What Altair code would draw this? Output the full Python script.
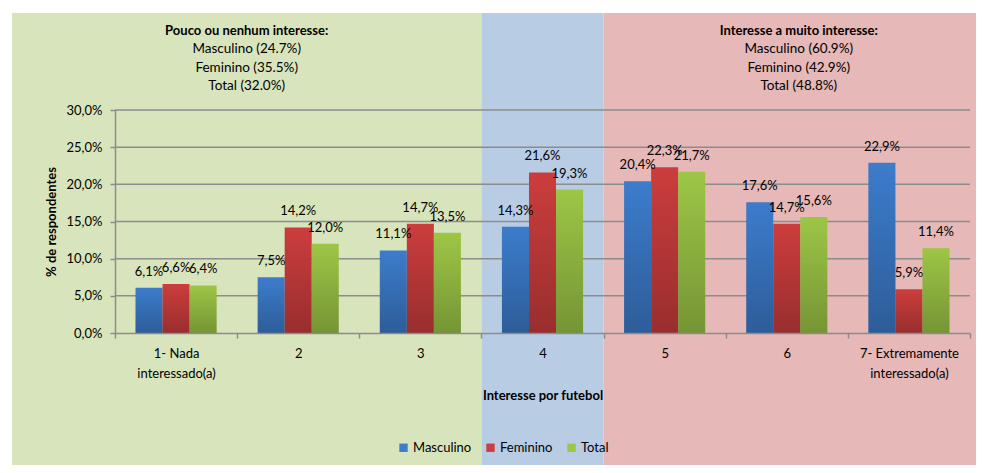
import altair as alt
import pandas as pd

# ---------------- data ----------------
categories = ["1- Nada\ninteressado(a)", "2", "3", "4", "5", "6",
              "7- Extremamente\ninteressado(a)"]
series = ["Masculino", "Feminino", "Total"]
masculino = [6.1, 7.5, 11.1, 14.3, 20.4, 17.6, 22.9]
feminino = [6.6, 14.2, 14.7, 21.6, 22.3, 14.7, 5.9]
total = [6.4, 12.0, 13.5, 19.3, 21.7, 15.6, 11.4]
y_ticks = [0, 5, 10, 15, 20, 25, 30]

left_title = "Pouco ou nenhum interesse:"
left_lines = ["Masculino (24.7%)", "Feminino (35.5%)", "Total (32.0%)"]
right_title = "Interesse a muito interesse:"
right_lines = ["Masculino (60.9%)", "Feminino (42.9%)", "Total (48.8%)"]

# ---------------- styling ----------------
colors = ["#3c7ccc", "#cc3d3d", "#9dc646"]
region_colors = ["#d8e4bc", "#b8cce4", "#e6b8b7"]
FONT = "Lato"
W, H = 855, 223
PAD = {"left": 107, "top": 102, "right": 6, "bottom": 132}

rows = []
for s, vals in zip(series, [masculino, feminino, total]):
    for c, v in zip(categories, vals):
        rows.append({"cat": c, "series": s, "value": v})
df = pd.DataFrame(rows)

one = alt.Data(values=[{}])

# background regions (decoration, aligned with category bands)
b1, b2 = W * 3 / 7, W * 4 / 7
top_px, bot_px = -PAD["top"] + 5, H + PAD["bottom"]
bounds = [(-PAD["left"] + 4, b1), (b1, b2), (b2, W + PAD["right"])]
bg_layers = [
    alt.Chart(one).mark_rect(color=col).encode(
        x=alt.value(x0), x2=alt.value(x1), y=alt.value(top_px), y2=alt.value(bot_px)
    )
    for (x0, x1), col in zip(bounds, region_colors)
]

y_axis = alt.Axis(
    title="% de respondentes", values=y_ticks, grid=False,
    labelExpr="replace(format(datum.value, '.1f'), '.', ',') + '%'",
    tickSize=5, labelPadding=8, titlePadding=8, labelFontSize=13,
    titleFontSize=13, titleFontWeight="bold",
    domainColor="#8c8c8c", tickColor="#8c8c8c", domainWidth=1.5, tickWidth=1.5,
    labelColor="#000", titleColor="#000", zindex=1,
)
y_scale = alt.Scale(domain=[0, 30])

grid = alt.Chart(pd.DataFrame({"value": y_ticks[1:]})).mark_rule(
    color="#8c8c8c", strokeWidth=1.5
).encode(y=alt.Y("value:Q", scale=y_scale, axis=y_axis))

x_enc = alt.X(
    "cat:N", sort=categories,
    scale=alt.Scale(paddingInner=0, paddingOuter=0),
    axis=alt.Axis(
        title="Interesse por futebol", labelAngle=0,
        labelExpr="split(datum.label, '\\n')",
        tickBand="extent", tickSize=5, labelPadding=9, labelLineHeight=20,
        titlePadding=9, labelFontSize=13, titleFontSize=13, titleFontWeight="bold",
        domainColor="#8c8c8c", tickColor="#8c8c8c", domainWidth=1.5, tickWidth=1.5,
        labelColor="#000", titleColor="#000", zindex=1, grid=False,
    ),
)
xo_enc = alt.XOffset("series:N", sort=series,
                     scale=alt.Scale(paddingInner=0, paddingOuter=0.759))
y_enc = alt.Y("value:Q", scale=y_scale, axis=y_axis)

bars = alt.Chart(df).mark_bar().encode(
    x=x_enc, xOffset=xo_enc, y=y_enc,
    color=alt.Color(
        "series:N", sort=series,
        scale=alt.Scale(domain=series, range=colors),
        legend=alt.Legend(
            title=None, orient="none", legendX=282, legendY=331,
            direction="horizontal", symbolType="square", symbolSize=70,
            symbolStrokeWidth=0, labelFontSize=13, columnPadding=12,
            labelOffset=3, labelColor="#000",
        ),
    ),
)

shade = alt.Chart(df).mark_bar(
    fill=alt.Gradient(
        gradient="linear", x1=0, y1=0, x2=0, y2=1,
        stops=[alt.GradientStop(color="rgba(0,0,0,0)", offset=0),
               alt.GradientStop(color="rgba(0,0,0,0.25)", offset=1)],
    )
).encode(x=alt.X("cat:N", sort=categories), xOffset=alt.XOffset("series:N", sort=series),
         y=y_enc)

labels = alt.Chart(df).transform_calculate(
    label="replace(format(datum.value, '.1f'), '.', ',') + '%'"
).mark_text(fontSize=13, baseline="alphabetic", dy=-12, color="#000").encode(
    x=alt.X("cat:N", sort=categories), xOffset=alt.XOffset("series:N", sort=series),
    y=y_enc, text="label:N",
)

lcx = (bounds[0][0] + bounds[0][1]) / 2
rcx = (bounds[2][0] + W + 12) / 2 + 6
head_y = -79
texts = []
for cx, title, lines in [(lcx, left_title, left_lines), (rcx, right_title, right_lines)]:
    texts.append(alt.Chart(one).mark_text(
        text=title, fontWeight="bold", fontSize=13, align="center",
        baseline="middle", color="#000").encode(x=alt.value(cx), y=alt.value(head_y)))
    texts.append(alt.Chart(one).mark_text(
        text=lines, fontSize=13.5, align="center", baseline="top",
        lineHeight=18.5, color="#000").encode(x=alt.value(cx), y=alt.value(head_y + 11)))

chart = alt.layer(*bg_layers, grid, bars, shade, labels, *texts).resolve_scale(
    y="shared"
).properties(
    width=W, height=H, autosize=alt.AutoSizeParams(type="none"), padding=PAD,
    background="white",
).configure_view(stroke=None).configure(font=FONT)

chart.save("out.html", embed_options={"renderer": "svg", "actions": False})
